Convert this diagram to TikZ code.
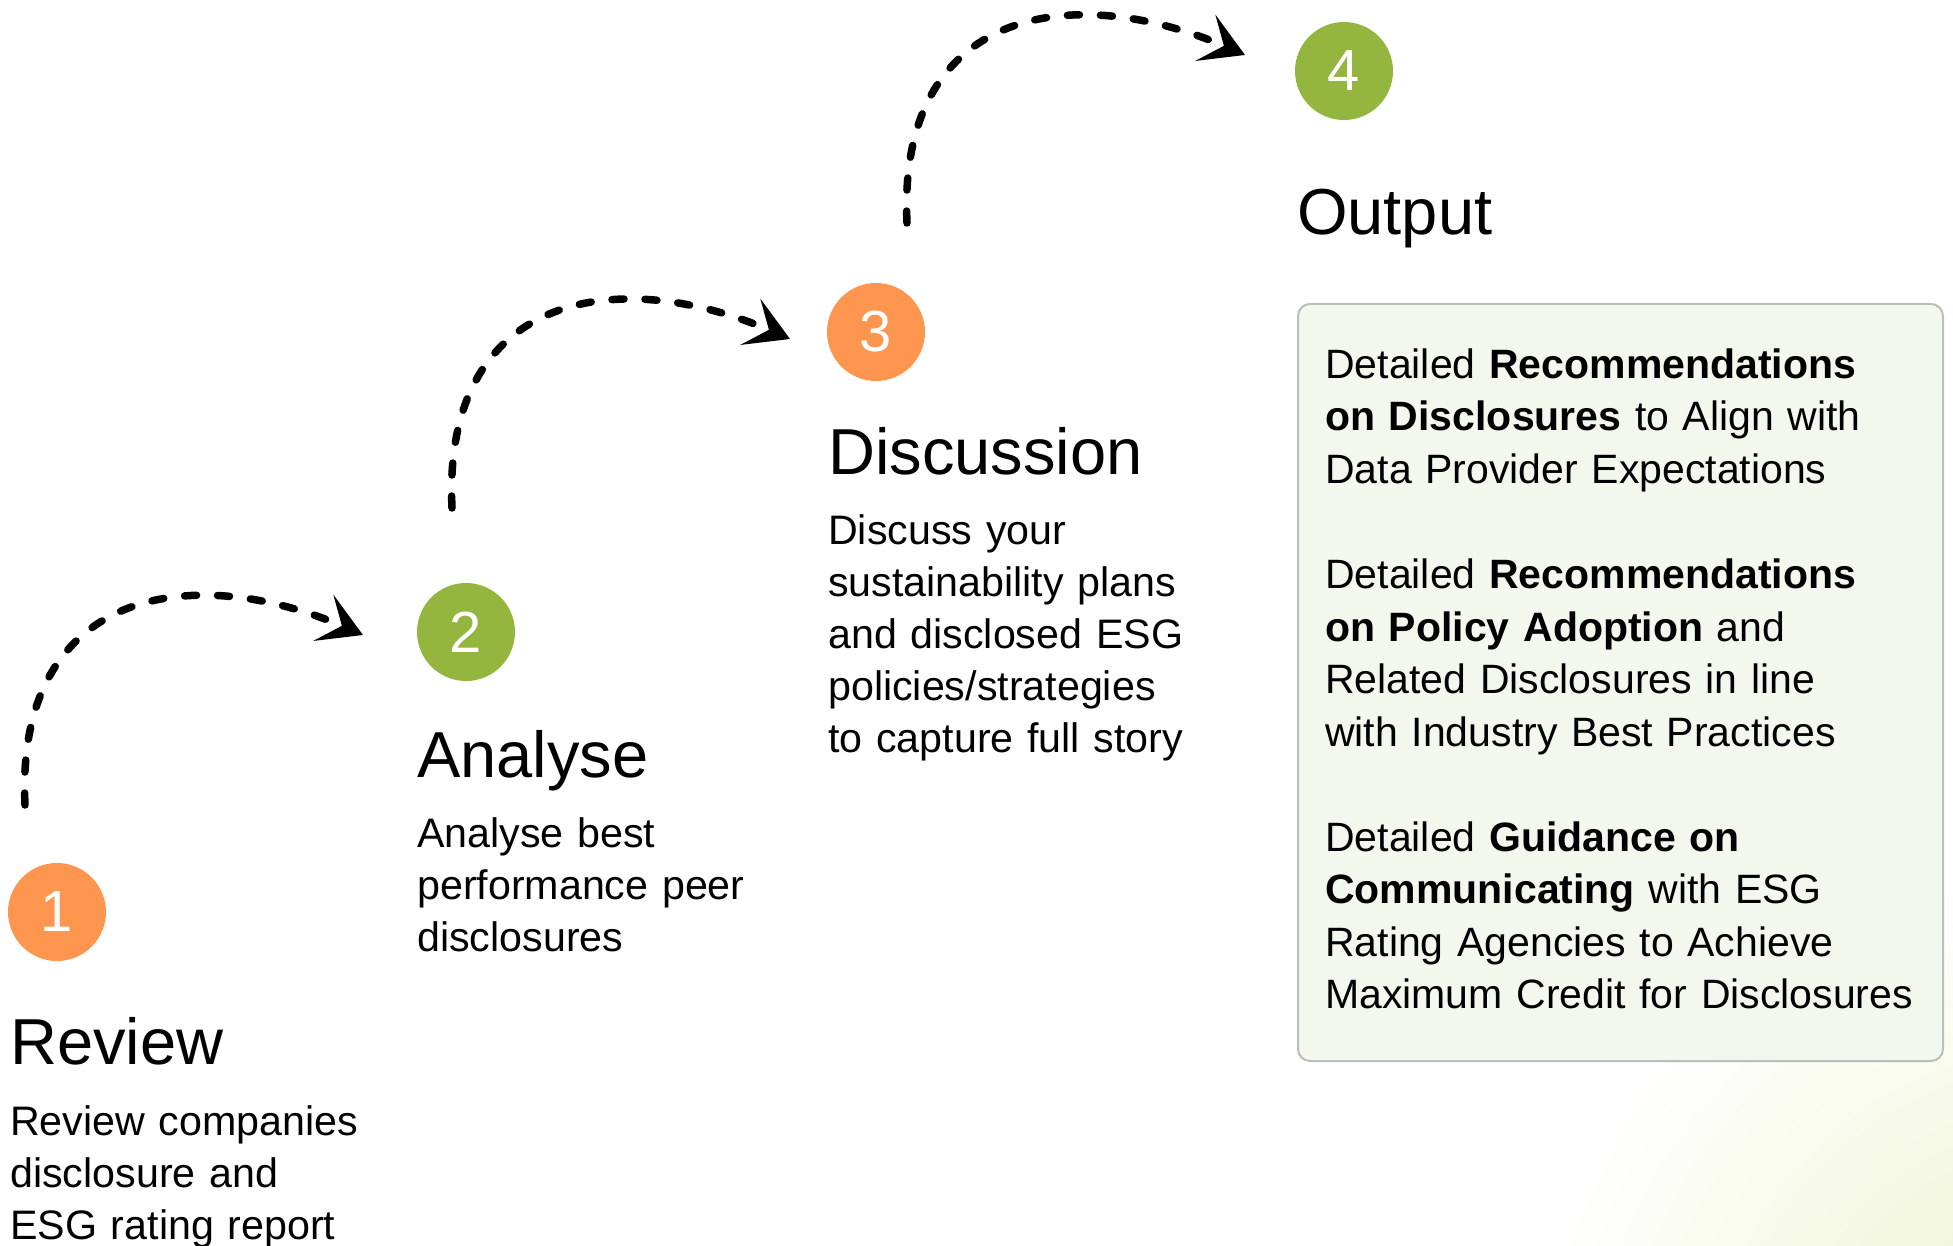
\documentclass[tikz,border=0pt]{standalone}
\usepackage{fontspec}
\setmainfont{Liberation Sans}
\usetikzlibrary{arrows.meta}
\definecolor{orng}{HTML}{FF964F}
\definecolor{grn}{HTML}{94B63E}
\definecolor{boxfill}{HTML}{F2F8EE}
\definecolor{boxline}{HTML}{BDBDBD}
\definecolor{glow}{HTML}{EAF2C6}
\begin{document}
\begin{tikzpicture}[x=1pt,y=-1pt,
  stepcircle/.style={circle,minimum size=98pt,inner sep=0pt,text=white,font=\fontsize{58}{58}\selectfont},
  heading/.style={anchor=base west,inner sep=0pt,font=\fontsize{65}{65}\selectfont},
  bodytext/.style={anchor=base west,inner sep=0pt,align=left,text width=#1,font=\fontsize{41.2}{52}\selectfont},
  boxtext/.style={anchor=base west,inner sep=0pt,align=left,text width=600pt,font=\fontsize{41}{52.6}\selectfont},
  flow/.style={line width=7.5pt,line cap=round,dash pattern=on 12pt off 21pt,
    -{Stealth[length=43pt,width=50pt,inset=20pt]}}]
\useasboundingbox (0,0) rectangle (1953,1246);
\begin{scope}
  \clip (0,0) rectangle (1953,1246);
  \shade[inner color=glow,outer color=white] (2070,1410) circle (540pt);
\end{scope}
% circles
\node[stepcircle,fill=orng] (c1) at (57,912) {1};
\node[stepcircle,fill=grn] (c2) at (466,632) {2};
\node[stepcircle,fill=orng] (c3) at (876,332) {3};
\node[stepcircle,fill=grn] (c4) at (1344,71) {4};
% headings
\node[heading] (h1) at (10,1064) {Review};
\node[heading] (h2) at (417,777) {Analyse};
\node[heading] (h3) at (828,474) {Discussion};
\node[heading] (h4) at (1297,235) {Output};
% body texts
\node[bodytext=400pt] (b1) at (10,1135) {Review companies\\disclosure and\\ESG rating report};
\node[bodytext=400pt] (b2) at (417,847) {Analyse best\\performance peer\\disclosures};
\node[bodytext=420pt] (b3) at (828,544) {Discuss your\\sustainability plans\\and disclosed ESG\\policies/strategies\\to capture full story};
% output box
\node[draw=boxline,fill=boxfill,line width=2pt,rounded corners=12pt,anchor=north west,
  minimum width=645pt,minimum height=757pt,inner sep=0pt] (box) at (1297,303) {};
\node[boxtext] (t1) at (1325,378) {Detailed \textbf{Recommendations}\\\textbf{on Disclosures} to Align with\\Data Provider Expectations};
\node[boxtext] (t2) at (1325,588.4) {Detailed \textbf{Recommendations}\\\textbf{on Policy Adoption} and\\Related Disclosures in line\\with Industry Best Practices};
\node[boxtext] (t3) at (1325,851) {Detailed \textbf{Guidance on}\\\textbf{Communicating} with ESG\\Rating Agencies to Achieve\\Maximum Credit for Disclosures};
% connectors
\coordinate (s1) at (25,805);  \coordinate (e1) at (363,635);
\coordinate (s2) at (452,508); \coordinate (e2) at (790,339);
\coordinate (s3) at (907,223); \coordinate (e3) at (1245,55);
\draw[flow] (s1) .. controls +(-10,-215) and +(-173,-75) .. (e1);
\draw[flow] (s2) .. controls +(-10,-215) and +(-173,-75) .. (e2);
\draw[flow] (s3) .. controls +(-10,-215) and +(-173,-75) .. (e3);
\end{tikzpicture}
\end{document}
